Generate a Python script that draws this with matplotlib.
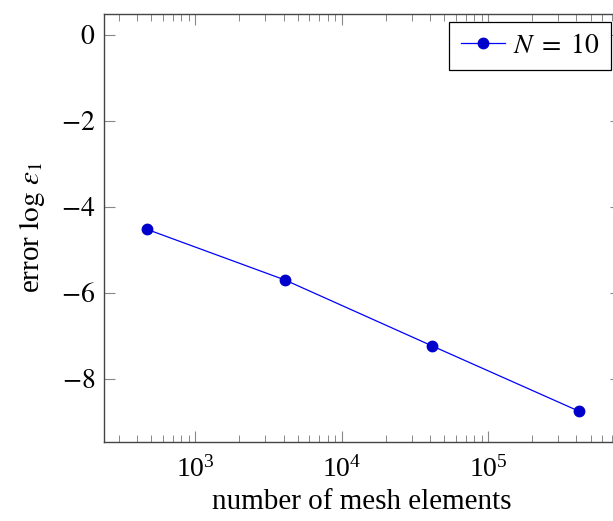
import matplotlib
matplotlib.use("Agg")
import matplotlib.pyplot as plt
import matplotlib.ticker as mticker
import numpy as np

# values
n_elements = [466, 4090, 41100, 414000]
log_error = [-4.52, -5.70, -7.23, -8.75]
series_label = r"$N\;=\;10$"
y_ticks = [0, -2, -4, -6, -8]

plt.rcParams['font.family'] = ['Liberation Serif', 'DejaVu Serif']
plt.rcParams['mathtext.fontset'] = 'stix'

fig = plt.figure(figsize=(6.13, 5.21), dpi=100)
# right spine sits just outside the picture, as in the reference
ax = fig.add_axes([103.5 / 613, 79 / 521, 517.5 / 613, 428.5 / 521])

ax.plot(n_elements, log_error, color='blue', lw=0.9, marker='o', ms=7.5,
        mfc=(0, 0, 0.8), mec=(0, 0, 0.8), label=series_label)

ax.set_xscale('log')
ax.set_xlim(236, 806000)
ax.set_ylim(-9.47, 0.5)
ax.set_yticks(y_ticks)
ax.yaxis.set_major_formatter(mticker.FuncFormatter(lambda v, p: '$%d$' % v))
ax.xaxis.set_minor_locator(mticker.LogLocator(base=10, subs=np.arange(2, 10)))
ax.xaxis.set_minor_formatter(mticker.NullFormatter())

ax.tick_params(which='both', direction='in', top=True, right=True,
               labelsize=20, color='#888888')
ax.tick_params(which='major', length=7.9, width=0.8, pad=6)
ax.tick_params(axis='x', which='major', pad=10)
ax.tick_params(which='minor', length=4.8, width=0.7)
for s in ax.spines.values():
    s.set_color('#444444')
    s.set_linewidth(1.0)

ax.set_xlabel('number of mesh elements', fontsize=21, labelpad=5)
ax.set_ylabel(r'error $\log\,\varepsilon_1$', fontsize=21, labelpad=10)

leg = ax.legend(loc='upper right', bbox_to_anchor=(0.98, 0.98), fontsize=20,
                fancybox=False, framealpha=1, edgecolor='black',
                borderpad=0.4, handlelength=1.6, handletextpad=0.3,
                borderaxespad=0)
leg.get_frame().set_linewidth(0.9)

fig.savefig('out.png', dpi=100)
